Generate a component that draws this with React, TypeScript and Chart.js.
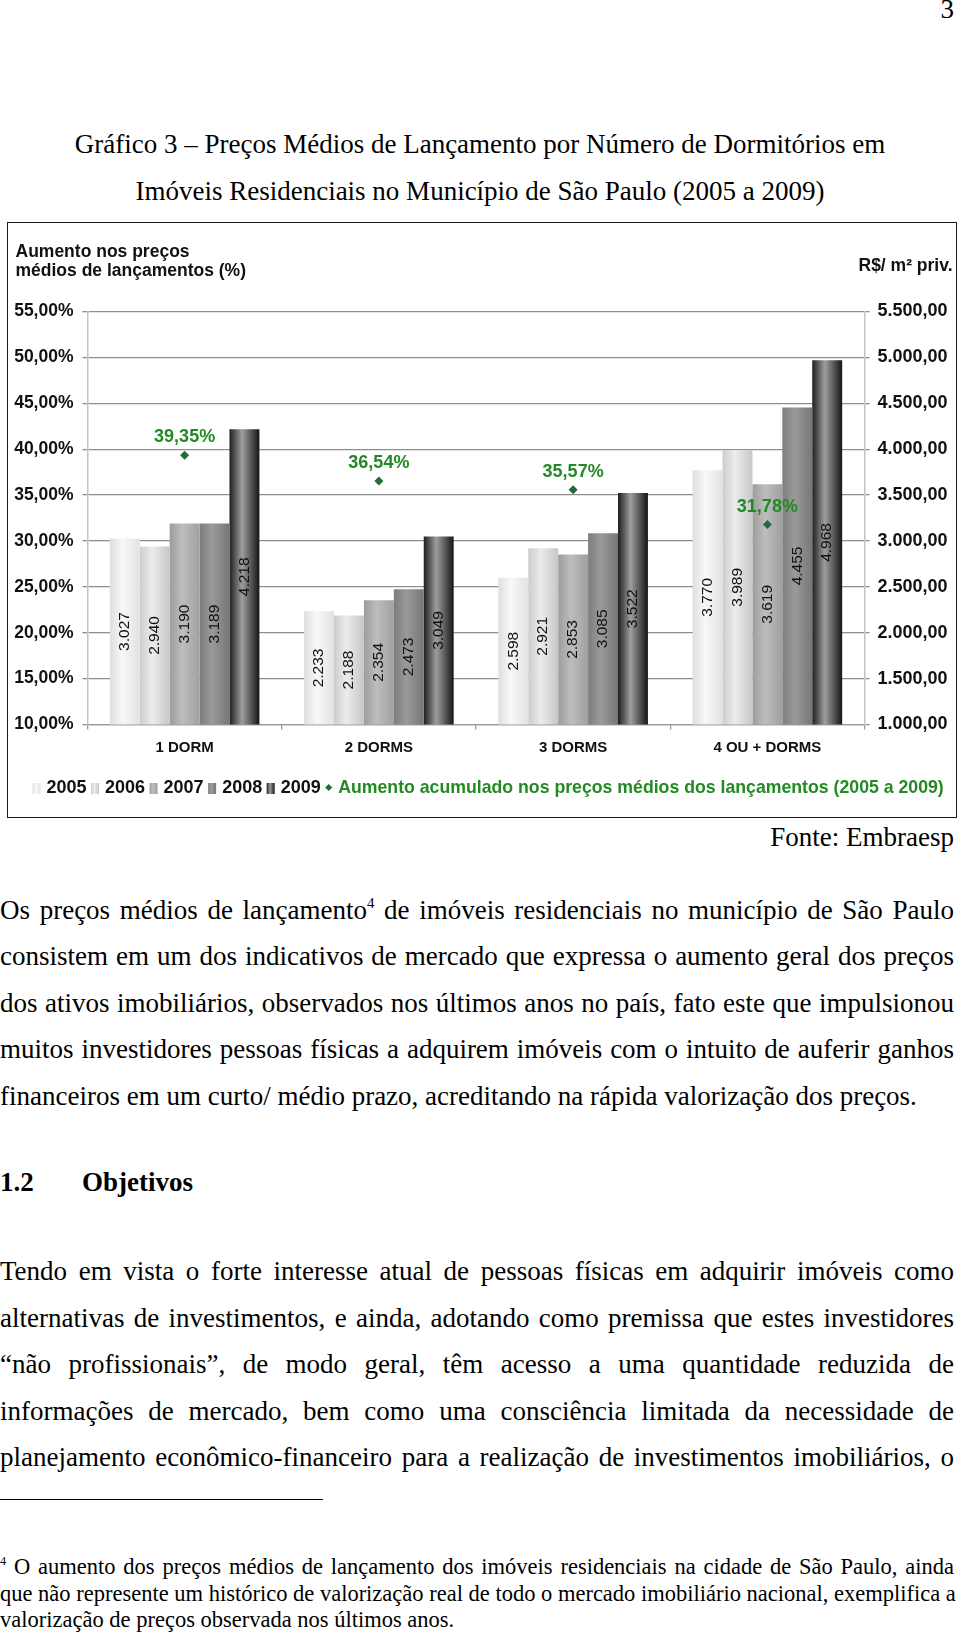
import React, { useEffect, useRef } from 'react';
import { Chart, registerables } from 'chart.js';

Chart.register(...registerables);

// ---------- data ----------
const categories = ['1 DORM', '2 DORMS', '3 DORMS', '4 OU + DORMS'];
const years = ['2005', '2006', '2007', '2008', '2009'];
const price2005 = [3027, 2233, 2598, 3770];
const price2006 = [2940, 2188, 2921, 3989];
const price2007 = [3190, 2354, 2853, 3619];
const price2008 = [3189, 2473, 3085, 4455];
const price2009 = [4218, 3049, 3522, 4968];
const increasePct = [39.35, 36.54, 35.57, 31.78];
const increaseLabel = 'Aumento acumulado nos preços médios dos lançamentos (2005 a 2009)';
const leftAxisTitle = ['Aumento nos preços', 'médios de lançamentos (%)'];
const rightAxisTitle = 'R$/ m² priv.';
const pctMin = 10;
const pctMax = 55;
const pctStep = 5;
const priceMin = 1000;
const priceMax = 5500;
const priceStep = 500;

// ---------- styles ----------
const barShades = [
  ['#dedede', '#f8f8f8', '#e2e2e2'],
  ['#cdcdcd', '#ececec', '#c6c6c6'],
  ['#9c9c9c', '#bdbdbd', '#a0a0a0'],
  ['#7d7d7d', '#9a9a9a', '#767676'],
  ['#1e1e1e', '#9e9e9e', '#151515'],
];
const greenText = '#238a23';
const greenMarker = '#1f6e3a';
const SANS = '"Liberation Sans", Arial, sans-serif';

const barSeries = [price2005, price2006, price2007, price2008, price2009];

function fmtThousands(v: number) {
  return Math.round(v).toString().replace(/\B(?=(\d{3})+(?!\d))/g, '.');
}
function fmtPrice(v: number) {
  return fmtThousands(v) + ',00';
}
function fmtPct(v: number) {
  return v.toFixed(2).replace('.', ',') + '%';
}

function makeGradient(ctx: CanvasRenderingContext2D, x0: number, x1: number, shades: string[]) {
  const g = ctx.createLinearGradient(x0, 0, x1, 0);
  g.addColorStop(0, shades[0]);
  g.addColorStop(0.42, shades[1]);
  g.addColorStop(1, shades[2]);
  return g;
}

const decorPlugin = {
  id: 'decor',
  beforeDatasetsDraw(chart: any) {
    const ctx = chart.ctx;
    chart.data.datasets.forEach((ds: any, di: number) => {
      if (ds.type !== 'bar') return;
      const meta = chart.getDatasetMeta(di);
      meta.data.forEach((el: any) => {
        const { x, width } = el.getProps(['x', 'width'], true);
        const g = makeGradient(ctx, x - width / 2, x + width / 2, barShades[ds.shadeIndex]);
        el.options = Object.assign({}, el.options, { backgroundColor: g });
      });
    });
  },
  afterDatasetsDraw(chart: any) {
    const ctx = chart.ctx;
    const bottom = chart.chartArea.bottom;
    ctx.save();
    chart.data.datasets.forEach((ds: any, di: number) => {
      const meta = chart.getDatasetMeta(di);
      if (ds.type === 'bar') {
        ctx.font = `15.5px ${SANS}`;
        ctx.fillStyle = '#111';
        ctx.textAlign = 'center';
        ctx.textBaseline = 'middle';
        meta.data.forEach((el: any, i: number) => {
          const { x, y, base } = el.getProps(['x', 'y', 'base'], true);
          const b = Math.min(base, bottom);
          ctx.save();
          ctx.translate(x, (y + b) / 2);
          ctx.rotate(-Math.PI / 2);
          ctx.fillText(fmtThousands(ds.data[i]), 0, 0);
          ctx.restore();
        });
      }
    });
    chart.data.datasets.forEach((ds: any, di: number) => {
      const meta = chart.getDatasetMeta(di);
      if (ds.type === 'line') {
        ctx.font = `bold 18px ${SANS}`;
        ctx.fillStyle = greenText;
        ctx.textAlign = 'center';
        ctx.textBaseline = 'middle';
        meta.data.forEach((el: any, i: number) => {
          ctx.fillText(fmtPct(ds.data[i]), el.x, el.y - 18);
        });
      }
    });
    ctx.restore();
  },
  afterDraw(chart: any) {
    const ctx = chart.ctx;
    ctx.save();
    ctx.fillStyle = '#111';
    ctx.font = `bold 17.5px ${SANS}`;
    ctx.textBaseline = 'middle';
    ctx.textAlign = 'left';
    ctx.fillText(leftAxisTitle[0], 7.5, 29.5);
    ctx.fillText(leftAxisTitle[1], 7.5, 48.5);
    ctx.textAlign = 'right';
    ctx.fillText(rightAxisTitle, 944.5, 43.5);

    // legend
    const legendY = 565.5;
    let x = 24.5;
    ctx.font = `bold 18px ${SANS}`;
    ctx.textAlign = 'left';
    chart.data.datasets
      .filter((ds: any) => ds.type === 'bar')
      .forEach((ds: any) => {
        const g = makeGradient(ctx, x, x + 8, barShades[ds.shadeIndex]);
        ctx.fillStyle = g;
        ctx.fillRect(x, legendY - 5.5, 8, 11);
        x += 8 + 6;
        ctx.fillStyle = '#111';
        ctx.fillText(ds.label, x, legendY);
        x += ctx.measureText(ds.label).width + 4.5;
      });
    const lineDs = chart.data.datasets.find((ds: any) => ds.type === 'line');
    if (lineDs) {
      const cx = x + 3.5;
      ctx.fillStyle = greenMarker;
      ctx.beginPath();
      ctx.moveTo(cx, legendY - 4.5);
      ctx.lineTo(cx + 3.5, legendY - 1);
      ctx.lineTo(cx, legendY + 2.5);
      ctx.lineTo(cx - 3.5, legendY - 1);
      ctx.closePath();
      ctx.fill();
      x += 7 + 6;
      ctx.font = `bold 17.7px ${SANS}`;
      ctx.fillStyle = greenText;
      ctx.fillText(lineDs.label, x, legendY);
    }
    ctx.restore();
  },
};

function ChartBox() {
  const ref = useRef<HTMLCanvasElement | null>(null);
  useEffect(() => {
    if (!ref.current) return;
    const datasets: any[] = [
      {
        type: 'line',
        label: increaseLabel,
        data: increasePct,
        yAxisID: 'y',
        showLine: false,
        pointStyle: 'rectRot',
        pointRadius: 4.5,
        pointBackgroundColor: greenMarker,
        pointBorderColor: greenMarker,
        pointBorderWidth: 0,
        backgroundColor: greenMarker,
        borderColor: greenMarker,
        order: -1,
      },
      ...years.map((yr, i) => ({
        type: 'bar',
        label: yr,
        data: barSeries[i],
        yAxisID: 'y2',
        shadeIndex: i,
        backgroundColor: barShades[i][1],
        borderWidth: 0,
        categoryPercentage: 0.77,
        barPercentage: 1,
        order: 1,
      })),
    ];
    const chart = new Chart(ref.current, {
      type: 'bar',
      data: { labels: categories, datasets },
      options: {
        responsive: false,
        animation: false,
        devicePixelRatio: 1,
        layout: { padding: { top: 88.5, bottom: 61.5, left: 0, right: 0 } },
        plugins: { legend: { display: false }, tooltip: { enabled: false } },
        scales: {
          x: {
            type: 'category',
            offset: true,
            grid: { display: true, drawOnChartArea: false, offset: true, tickLength: 5, color: '#9a9a9a', lineWidth: 1.3 },
            border: { color: '#9a9a9a', width: 1.3 },
            ticks: { font: { family: SANS, size: 15, weight: 'bold' }, color: '#111', padding: 9 },
            afterFit: (s: any) => { s.height = 30; },
          },
          y: {
            position: 'left',
            min: pctMin,
            max: pctMax,
            ticks: { stepSize: pctStep, callback: (v: any) => fmtPct(Number(v)), font: { family: SANS, size: 17.5, weight: 'bold' }, color: '#111', padding: 9 },
            grid: { color: '#8e8e8e', lineWidth: 1.3, tickLength: 5 },
            border: { color: '#c4c4c4', width: 1.5 },
            afterFit: (s: any) => { s.width = 79.5; },
          },
          y2: {
            position: 'right',
            min: priceMin,
            max: priceMax,
            ticks: { stepSize: priceStep, callback: (v: any) => fmtPrice(Number(v)), font: { family: SANS, size: 18, weight: 'bold' }, color: '#111', padding: 8 },
            grid: { drawOnChartArea: false, color: '#8e8e8e', lineWidth: 1.3, tickLength: 5 },
            border: { color: '#c4c4c4', width: 1.5 },
            afterFit: (s: any) => { s.width = 90.5; },
          },
        },
      } as any,
      plugins: [decorPlugin],
    });
    return () => chart.destroy();
  }, []);
  return <canvas ref={ref} width={947} height={593} style={{ display: 'block', width: 947, height: 593 }} />;
}

const BODY = 27;

function Line(props: { top: number; children: any; justify?: boolean; size?: number; bold?: boolean; left?: number; right?: boolean; lh?: number }) {
  const size = props.size || BODY;
  const lh = props.lh || 32;
  return (
    <div
      style={{
        position: 'absolute',
        left: props.left || 0,
        top: props.top,
        width: 954 - (props.left || 0),
        fontSize: size,
        lineHeight: lh + 'px',
        whiteSpace: 'nowrap',
        fontWeight: props.bold ? 'bold' : 'normal',
        textAlign: props.right ? 'right' : props.justify ? 'justify' : 'left',
        textAlignLast: props.right ? 'right' : props.justify ? 'justify' : 'left',
      } as any}
    >
      {props.children}
    </div>
  );
}

const sup = { fontSize: '0.55em', verticalAlign: '0.75em', lineHeight: 0 } as any;

export default function App() {
  const c = (y: number) => y - 16.5;
  const f = (y: number) => y - 13.5;
  return (
    <div
      style={{
        position: 'absolute',
        left: 0,
        top: 0,
        width: 960,
        height: 1636,
        background: '#fff',
        color: '#000',
        fontFamily: '"Liberation Serif", "Times New Roman", serif',
        overflow: 'hidden',
      }}
    >
      <Line top={c(9)} right>3</Line>
      <div style={{ position: 'absolute', left: 0, top: c(144), width: 960, textAlign: 'center', fontSize: BODY, lineHeight: '32px', whiteSpace: 'nowrap' }}>
        Gráfico 3 – Preços Médios de Lançamento por Número de Dormitórios em
      </div>
      <div style={{ position: 'absolute', left: 0, top: c(191), width: 960, textAlign: 'center', fontSize: BODY, lineHeight: '32px', whiteSpace: 'nowrap' }}>
        Imóveis Residenciais no Município de São Paulo (2005 a 2009)
      </div>

      <div
        style={{
          position: 'absolute',
          left: 7,
          top: 222,
          width: 950,
          height: 596,
          border: '1.5px solid #1a1a1a',
          boxSizing: 'border-box',
          background: '#fff',
        }}
      >
        <ChartBox />
      </div>

      <Line top={c(837)} right>Fonte: Embraesp</Line>

      <Line top={c(910)} justify>Os preços médios de lançamento<span style={sup}>4</span> de imóveis residenciais no município de São Paulo</Line>
      <Line top={c(956)} justify>consistem em um dos indicativos de mercado que expressa o aumento geral dos preços</Line>
      <Line top={c(1003)} justify>dos ativos imobiliários, observados nos últimos anos no país, fato este que impulsionou</Line>
      <Line top={c(1049)} justify>muitos investidores pessoas físicas a adquirem imóveis com o intuito de auferir ganhos</Line>
      <Line top={c(1096)}>financeiros em um curto/ médio prazo, acreditando na rápida valorização dos preços.</Line>

      <Line top={c(1182)} bold>1.2</Line>
      <Line top={c(1182)} bold left={82}>Objetivos</Line>

      <Line top={c(1271)} justify>Tendo em vista o forte interesse atual de pessoas físicas em adquirir imóveis como</Line>
      <Line top={c(1318)} justify>alternativas de investimentos, e ainda, adotando como premissa que estes investidores</Line>
      <Line top={c(1364)} justify>“não profissionais”, de modo geral, têm acesso a uma quantidade reduzida de</Line>
      <Line top={c(1411)} justify>informações de mercado, bem como uma consciência limitada da necessidade de</Line>
      <Line top={c(1457)} justify>planejamento econômico-financeiro para a realização de investimentos imobiliários, o</Line>

      <div style={{ position: 'absolute', left: 0, top: 1499, width: 323, height: 1, background: '#000' }} />

      <Line top={f(1567)} justify size={22.5} lh={26}><span style={sup}>4</span> O aumento dos preços médios de lançamento dos imóveis residenciais na cidade de São Paulo, ainda</Line>
      <Line top={f(1594)} justify size={22.5} lh={26}>que não represente um histórico de valorização real de todo o mercado imobiliário nacional, exemplifica a</Line>
      <Line top={f(1620)} size={22.5} lh={26}>valorização de preços observada nos últimos anos.</Line>
    </div>
  );
}
